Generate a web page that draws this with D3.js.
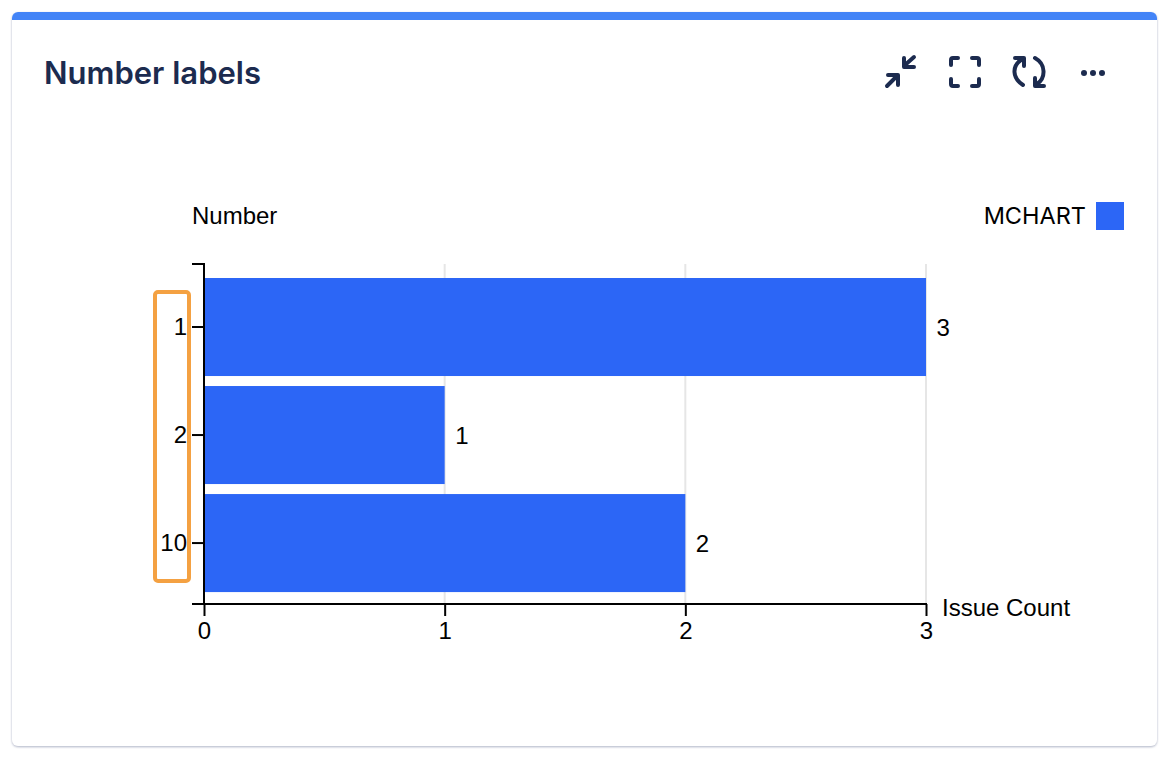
<!DOCTYPE html>
<html>
<head>
<meta charset="utf-8">
<script src="https://cdn.jsdelivr.net/npm/d3@7"></script>
<style>
  html, body { margin: 0; padding: 0; background: #fff; }
  svg { display: block; }
  .tick-label { font-family: "Liberation Sans", Arial, sans-serif; font-size: 24px; fill: #000; }
  .inter-label { font-family: Inter, sans-serif; font-size: 23.5px; fill: #000; }
</style>
</head>
<body>
<svg id="chart" width="1169" height="758"></svg>
<script>
const categories = ['1', '2', '10'];
const issueCounts = [3, 1, 2];
const xTicks = [0, 1, 2, 3];
const seriesName = 'MCHART';
const BAR = '#2c66f6';
const NAVY = '#1c2b4f';

const svg = d3.select('#chart');

// card
const defs = svg.append('defs');
const shadow = defs.append('filter').attr('id', 'cardShadow').attr('x', '-2%').attr('y', '-2%').attr('width', '104%').attr('height', '104%');
shadow.append('feDropShadow').attr('dx', 0).attr('dy', 1).attr('stdDeviation', 1).attr('flood-color', '#8a93ad').attr('flood-opacity', 0.7);
defs.append('clipPath').attr('id', 'cardClip').append('rect').attr('x', 12).attr('y', 12).attr('width', 1145).attr('height', 734).attr('rx', 6);

svg.append('rect').attr('x', 12).attr('y', 12).attr('width', 1145).attr('height', 734).attr('rx', 6)
  .attr('fill', '#fff').attr('filter', 'url(#cardShadow)');
svg.append('rect').attr('x', 12).attr('y', 12).attr('width', 1145).attr('height', 8)
  .attr('fill', '#4384f7').attr('clip-path', 'url(#cardClip)');

svg.append('text').attr('x', 44).attr('y', 84)
  .attr('font-family', 'Inter, sans-serif').attr('font-size', 31).attr('font-weight', 600)
  .attr('fill', NAVY).text('Number labels');

// header icons
const icons = svg.append('g').attr('fill', 'none').attr('stroke', NAVY).attr('stroke-width', 4);
icons.append('path').attr('stroke-linecap', 'round').attr('stroke-linejoin', 'round')
  .attr('d', 'M887,86 L897,76 M888,75 H898 V85 M905,65 L914,57 M904,58 V67 H914');
icons.append('path').attr('stroke-linecap', 'round').attr('stroke-linejoin', 'round')
  .attr('d', 'M951,65 V60 Q951,58 953,58 H958 M972,58 H977 Q979,58 979,60 V65 M951,79 V84 Q951,86 953,86 H958 M972,86 H977 Q979,86 979,84 V79');
icons.append('path').attr('stroke-linecap', 'round').attr('stroke-linejoin', 'round')
  .attr('d', 'M1023,85 C1012,78 1012,66 1021,60 M1015,58 H1024 V66 M1035,58 C1046,64 1046,78 1037,84 M1035,78 V86 H1044');
icons.append('g').attr('fill', NAVY).attr('stroke', 'none')
  .selectAll('circle').data([1084, 1093, 1102]).join('circle')
  .attr('cx', d => d).attr('cy', 73).attr('r', 3);

// scales
const x = d3.scaleLinear().domain([0, 3]).range([204, 926]);
const y = d3.scaleBand().domain(categories).range([264, 604]).paddingInner(0.0926).paddingOuter(0.12).align(0.54);

// gridlines
svg.append('g').selectAll('line').data(xTicks.slice(1)).join('line')
  .attr('x1', d => x(d)).attr('x2', d => x(d)).attr('y1', 264).attr('y2', 604)
  .attr('stroke', '#e6e6e6').attr('stroke-width', 2);

// bars
svg.append('g').selectAll('rect').data(categories).join('rect')
  .attr('x', x(0))
  .attr('y', d => y(d))
  .attr('width', (d, i) => x(issueCounts[i]) - x(0))
  .attr('height', y.bandwidth())
  .attr('fill', BAR);

// value labels
svg.append('g').selectAll('text').data(categories).join('text')
  .attr('class', 'tick-label')
  .attr('x', (d, i) => x(issueCounts[i]) + 10.5)
  .attr('y', d => y(d) + y.bandwidth() / 2 + 8.5)
  .text((d, i) => issueCounts[i]);

// axes
const axisY = svg.append('g').attr('transform', `translate(${x(0)},0)`)
  .call(d3.axisLeft(y).tickSize(12).tickPadding(5));
axisY.select('.domain').attr('stroke', '#000').attr('stroke-width', 2).attr('d', 'M-12,264H0V604');
axisY.selectAll('.tick line').attr('stroke', '#000').attr('stroke-width', 2);
axisY.selectAll('.tick text').attr('class', 'tick-label').attr('font-family', null).attr('font-size', null);

const axisX = svg.append('g').attr('transform', 'translate(0,604)')
  .call(d3.axisBottom(x).tickValues(xTicks).tickFormat(d3.format('d')).tickSize(12).tickPadding(6));
axisX.select('.domain').attr('stroke', '#000').attr('stroke-width', 2).attr('d', `M192,0H${x(3) + 1}`);
axisX.selectAll('.tick line').attr('stroke', '#000').attr('stroke-width', 2);
axisX.selectAll('.tick text').attr('class', 'tick-label').attr('font-family', null).attr('font-size', null);

// axis titles
svg.append('text').attr('class', 'tick-label').attr('x', 192).attr('y', 224).text('Number');
svg.append('text').attr('class', 'tick-label').attr('x', 942).attr('y', 616).text('Issue Count');

// legend
svg.append('text').attr('class', 'inter-label').attr('x', 1086).attr('y', 224).attr('text-anchor', 'end').text(seriesName);
svg.append('rect').attr('x', 1096).attr('y', 202).attr('width', 28).attr('height', 28).attr('fill', BAR);

// highlight around the y labels
svg.append('rect').attr('x', 155).attr('y', 292).attr('width', 34).attr('height', 289).attr('rx', 3)
  .attr('fill', 'none').attr('stroke', '#f4a142').attr('stroke-width', 4);
</script>
</body>
</html>
